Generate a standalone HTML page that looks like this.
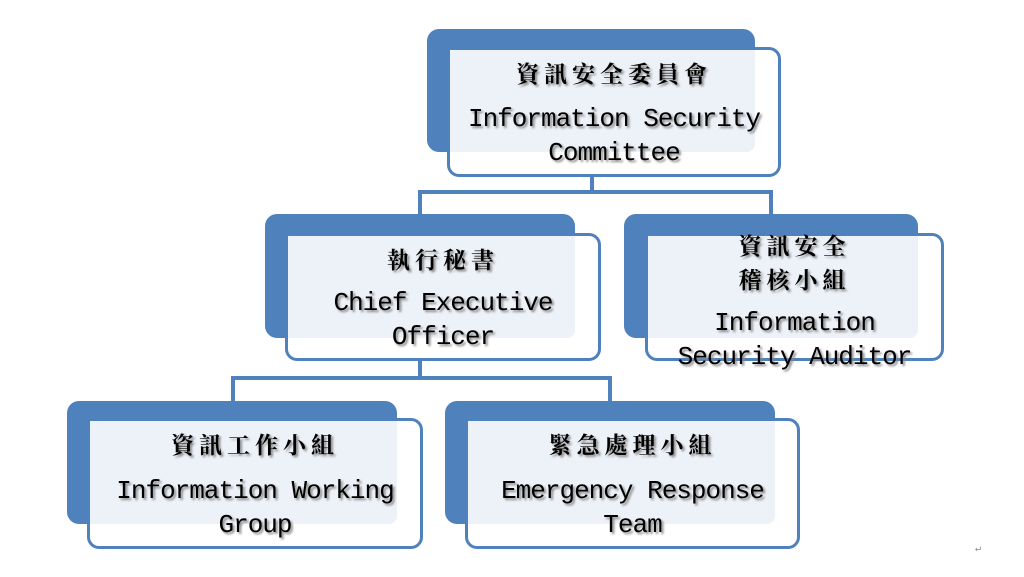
<!DOCTYPE html>
<html><head><meta charset="utf-8"><style>
body{margin:0;width:1024px;height:577px;background:#fff;position:relative;overflow:hidden;font-family:"Liberation Mono","Noto Serif CJK SC",monospace;}
.b{position:absolute;background:#4f81bd;border-radius:12px;}
.f{position:absolute;border:3px solid #4f81bd;border-radius:12px;background:#fff;box-sizing:border-box;}
.l{position:absolute;background:#edf1f8;border-radius:0 0 8px 0;}
.t{position:absolute;left:0;right:0;text-align:center;color:#000;text-shadow:2px 2px 2px #888;white-space:nowrap;}
.c{font-size:23px;font-weight:bold;letter-spacing:5px;font-family:"Noto Serif CJK SC","Noto Sans CJK TC",serif;}
.e{font-size:26px;line-height:34px;letter-spacing:-1px;}
.ln{position:absolute;background:#4f81bd;}
</style></head><body>
<div class="ln" style="left:590px;top:176px;width:4px;height:18px"></div>
<div class="ln" style="left:418px;top:190px;width:355px;height:4px"></div>
<div class="ln" style="left:418px;top:190px;width:4px;height:26px"></div>
<div class="ln" style="left:769px;top:190px;width:4px;height:26px"></div>
<div class="ln" style="left:418px;top:360px;width:4px;height:20px"></div>
<div class="ln" style="left:231px;top:376px;width:381px;height:4px"></div>
<div class="ln" style="left:231px;top:376px;width:4px;height:27px"></div>
<div class="ln" style="left:608px;top:376px;width:4px;height:27px"></div>

<div class="b" style="left:427px;top:29px;width:328px;height:123px"></div>
<div class="f" style="left:447px;top:47px;width:334px;height:130px"><div class="l" style="left:0;top:0;width:305px;height:102px"></div>
<div class="t c" style="top:6px">資訊安全委員會</div>
<div class="t e" style="top:52px">Information Security<br>Committee</div></div>

<div class="b" style="left:265px;top:214px;width:310px;height:124px"></div>
<div class="f" style="left:285px;top:233px;width:316px;height:128px"><div class="l" style="left:0;top:0;width:287px;height:102px"></div>
<div class="t c" style="top:6px">執行秘書</div>
<div class="t e" style="top:50px">Chief Executive<br>Officer</div></div>

<div class="b" style="left:624px;top:214px;width:294px;height:124px"></div>
<div class="f" style="left:645px;top:233px;width:299px;height:128px"><div class="l" style="left:0;top:0;width:270px;height:102px"></div>
<div class="t c" style="top:-8px;line-height:34px">資訊安全<br>稽核小組</div>
<div class="t e" style="top:70px">Information<br>Security Auditor</div></div>

<div class="b" style="left:67px;top:401px;width:330px;height:123px"></div>
<div class="f" style="left:87px;top:418px;width:336px;height:131px"><div class="l" style="left:0;top:0;width:307px;height:103px"></div>
<div class="t c" style="top:6px">資訊工作小組</div>
<div class="t e" style="top:53px">Information Working<br>Group</div></div>

<div class="b" style="left:445px;top:401px;width:330px;height:123px"></div>
<div class="f" style="left:465px;top:418px;width:335px;height:131px"><div class="l" style="left:0;top:0;width:307px;height:103px"></div>
<div class="t c" style="top:6px">緊急處理小組</div>
<div class="t e" style="top:53px">Emergency Response<br>Team</div></div>
<div style="position:absolute;left:975px;top:543px;font-size:10px;color:#888">↵</div>
</body></html>
